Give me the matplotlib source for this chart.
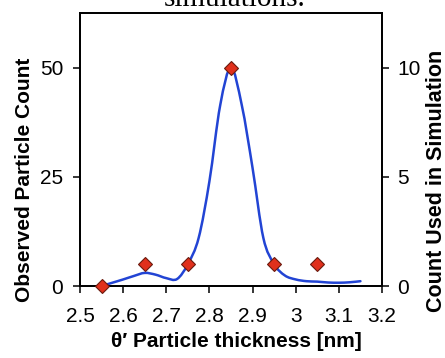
import numpy as np
import matplotlib
matplotlib.use("Agg")
import matplotlib.pyplot as plt
from matplotlib.path import Path
from matplotlib.patches import PathPatch

# Observed thickness distribution (smoothed curve, left axis)
obs_thickness = [2.55, 2.575, 2.6, 2.625, 2.65, 2.675, 2.7, 2.725, 2.75, 2.775,
                 2.8, 2.825, 2.85, 2.875, 2.9, 2.925, 2.95, 2.975, 3.0, 3.025,
                 3.05, 3.075, 3.1, 3.125, 3.15]
obs_count = [0.0, 0.75, 1.5, 2.3, 3.0, 2.6, 1.8, 1.6, 5.0, 11.0,
             24.0, 41.4, 50.0, 41.4, 27.0, 11.0, 5.0, 2.4, 1.5, 1.1,
             1.0, 0.8, 0.75, 0.85, 1.1]

# Particles used in the simulation (right axis)
sim_thickness = [2.55, 2.65, 2.75, 2.85, 2.95, 3.05]
sim_count = [0, 1, 1, 10, 1, 1]

left_ticks = [0, 25, 50]
right_ticks = [0, 5, 10]
x_ticks = [2.5, 2.6, 2.7, 2.8, 2.9, 3.0, 3.1, 3.2]
x_ticklabels = ["2.5", "2.6", "2.7", "2.8", "2.9", "3", "3.1", "3.2"]

plt.rcParams["font.family"] = ["Liberation Sans", "DejaVu Sans"]

W, H = 445, 358
fig = plt.figure(figsize=(W / 100, H / 100), dpi=100)
ax = fig.add_axes([80 / W, 1 - 286 / H, 302 / W, 273 / H])
ax2 = ax.twinx()


def smooth_path(xs, ys):
    """Bezier path through the points with Catmull-Rom style tangents."""
    pts = np.column_stack([xs, ys]).astype(float)
    n = len(pts)
    verts = [pts[0]]
    codes = [Path.MOVETO]
    for i in range(n - 1):
        p0 = pts[i - 1] if i > 0 else pts[i]
        p1 = pts[i]
        p2 = pts[i + 1]
        p3 = pts[i + 2] if i + 2 < n else pts[i + 1]
        c1 = p1 + (p2 - p0) / 6.0
        c2 = p2 - (p3 - p1) / 6.0
        verts += [c1, c2, p2]
        codes += [Path.CURVE4] * 3
    return Path(verts, codes)


curve = PathPatch(smooth_path(obs_thickness, obs_count), facecolor="none",
                  edgecolor="#2244d4", linewidth=1.8, transform=ax.transData,
                  capstyle="round", joinstyle="round", zorder=2)
ax.add_patch(curve)

ax2.plot(sim_thickness, sim_count, linestyle="none", marker="D", markersize=7,
         markerfacecolor="#e0301c", markeredgecolor="#6a1a0e",
         markeredgewidth=0.8, zorder=3, clip_on=False)
ax2.set_zorder(ax.get_zorder() + 1)
ax2.patch.set_visible(False)

ax.set_xlim(2.5, 3.2)
ax.set_ylim(0, 62.5)
ax2.set_ylim(0, 12.5)

ax.set_xticks(x_ticks)
ax.set_xticklabels(x_ticklabels)
ax.set_yticks(left_ticks)
ax2.set_yticks(right_ticks)

for a in (ax, ax2):
    a.tick_params(axis="both", direction="out", length=5, width=1.1,
                  labelsize=15, colors="black")
    for s in a.spines.values():
        s.set_linewidth(1.3)
        s.set_color("black")
ax.tick_params(axis="x", pad=10)
ax.tick_params(axis="y", pad=7)
ax2.tick_params(axis="y", pad=6)

ax.set_xlabel("θ′ Particle thickness [nm]", fontsize=15, fontweight="bold",
              va="baseline", ha="center")
ax.xaxis.set_label_coords(236 / W, 1 - 347 / H, transform=fig.transFigure)

ax.set_ylabel("Observed Particle Count", fontsize=15, fontweight="bold",
              va="center", ha="center")
ax.yaxis.set_label_coords(25 / W, 1 - 180 / H, transform=fig.transFigure)

ax2.set_ylabel("Count Used in Simulation", fontsize=15.5, fontweight="bold",
               va="center", ha="center")
ax2.yaxis.set_label_coords(436 / W, 1 - 181 / H, transform=fig.transFigure)

fig.text(235 / W, 1 - 6 / H, "simulations.", family="Liberation Serif",
         fontsize=21, ha="center", va="baseline")

fig.savefig("out.png", dpi=100, facecolor="white")
